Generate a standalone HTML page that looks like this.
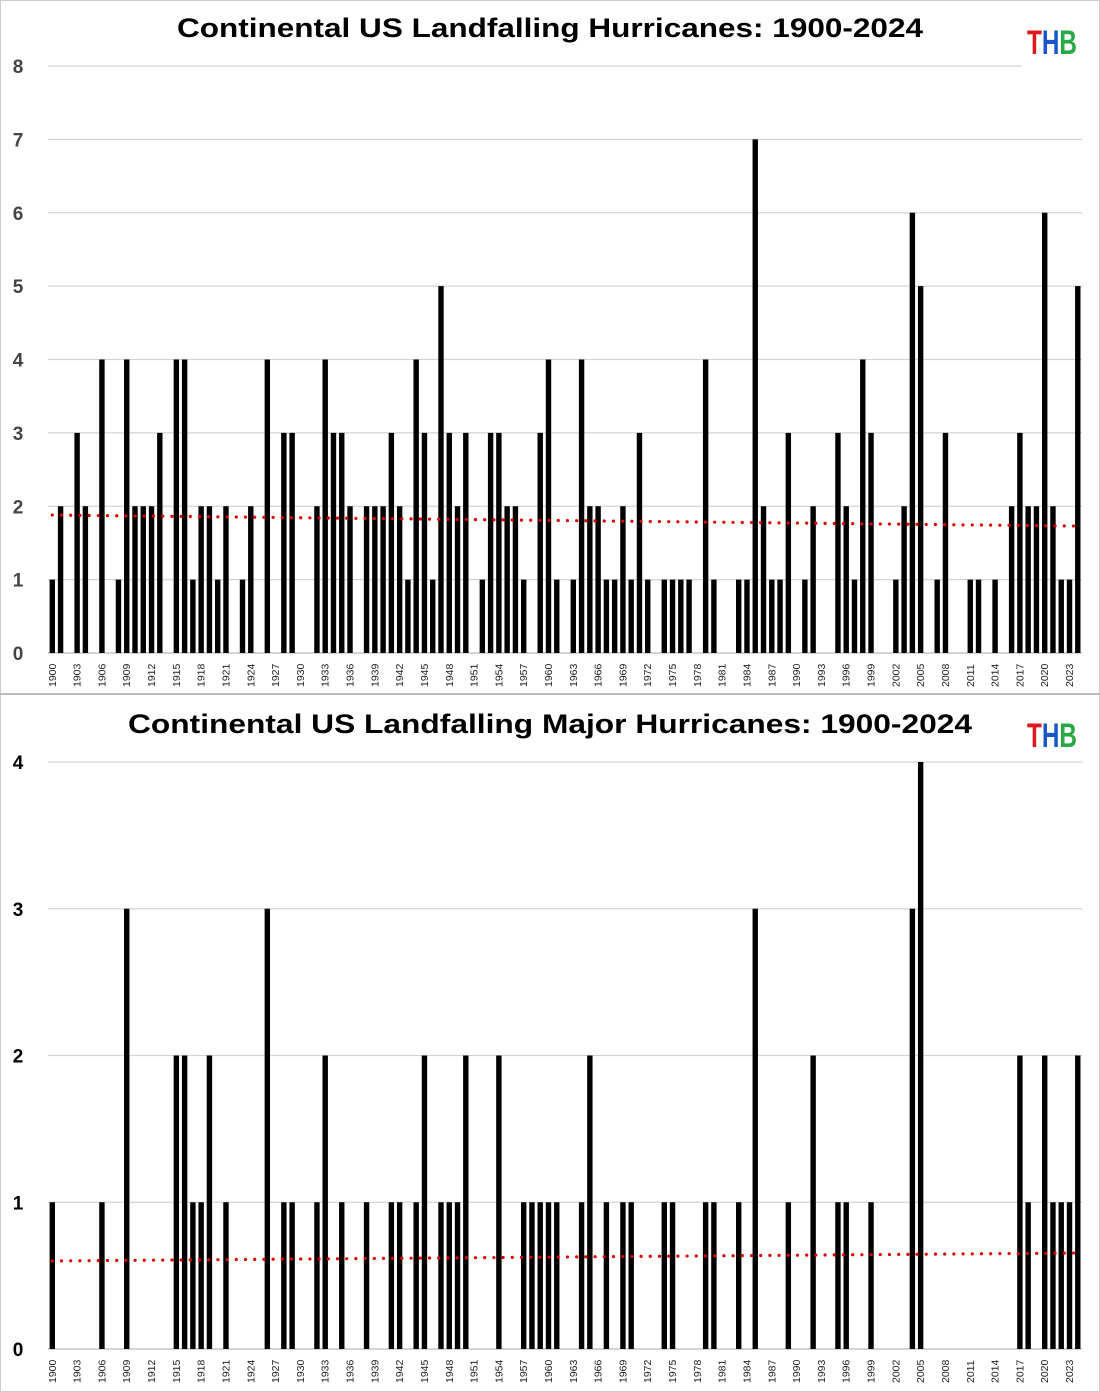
<!DOCTYPE html>
<html><head><meta charset="utf-8">
<style>
html,body{margin:0;padding:0;background:#fff;}
svg{display:block;font-family:"Liberation Sans",sans-serif;}
</style></head>
<body>
<svg id="chart" width="1100" height="1392" viewBox="0 0 1100 1392" xmlns="http://www.w3.org/2000/svg">
<rect x="0" y="0" width="1100" height="1392" fill="#fff"/>
<rect x="0.5" y="0.5" width="1099" height="1391" fill="none" stroke="#ccc"/>
<line x1="0" y1="694" x2="1100" y2="694" stroke="#bbb" stroke-width="2"/>
<text x="177" y="37" textLength="746" lengthAdjust="spacingAndGlyphs" font-size="27" font-weight="bold" fill="#000">Continental US Landfalling Hurricanes: 1900-2024</text>
<text x="128" y="733" textLength="844" lengthAdjust="spacingAndGlyphs" font-size="27" font-weight="bold" fill="#000">Continental US Landfalling Major Hurricanes: 1900-2024</text>
<g font-size="34" font-weight="bold"><text x="1027" y="54" textLength="50" lengthAdjust="spacingAndGlyphs"><tspan fill="#e0181e">T</tspan><tspan fill="#1a56c8">H</tspan><tspan fill="#2aa845">B</tspan></text></g>
<g font-size="34" font-weight="bold"><text x="1027" y="747" textLength="50" lengthAdjust="spacingAndGlyphs"><tspan fill="#e0181e">T</tspan><tspan fill="#1a56c8">H</tspan><tspan fill="#2aa845">B</tspan></text></g>
<g id="top"></g>
<g id="bottom"></g>
</svg>
<script>
const firstYear = 1900;
const allHurricanes = [1,2,0,3,2,0,4,0,1,4,2,2,2,3,0,4,4,1,2,2,1,2,0,1,2,0,4,0,3,3,0,0,2,4,3,3,2,0,2,2,2,3,2,1,4,3,1,5,3,2,3,0,1,3,3,2,2,1,0,3,4,1,0,1,4,2,2,1,1,2,1,3,1,0,1,1,1,1,0,4,1,0,0,1,1,7,2,1,1,3,0,1,2,0,0,3,2,1,4,3,0,0,1,2,6,5,0,1,3,0,0,1,1,0,1,0,2,3,2,2,6,2,1,1,5];
const majorHurricanes = [1,0,0,0,0,0,1,0,0,3,0,0,0,0,0,2,2,1,1,2,0,1,0,0,0,0,3,0,1,1,0,0,1,2,0,1,0,0,1,0,0,1,1,0,1,2,0,1,1,1,2,0,0,0,2,0,0,1,1,1,1,1,0,0,1,2,0,1,0,1,1,0,0,0,1,1,0,0,0,1,1,0,0,1,0,3,0,0,0,1,0,0,2,0,0,1,1,0,0,1,0,0,0,0,3,4,0,0,0,0,0,0,0,0,0,0,0,2,1,0,2,1,1,1,2];
const topTicks = [0,1,2,3,4,5,6,7,8];
const bottomTicks = [0,1,2,3,4];
const topTrend = [1.88, 1.73];
const bottomTrend = [0.60, 0.654];
const NS = "http://www.w3.org/2000/svg";
function mk(tag, attrs, parent){const e=document.createElementNS(NS,tag);for(const k in attrs)e.setAttribute(k,attrs[k]);parent.appendChild(e);return e;}
const x0 = 52.3, step = 8.27;
function xPos(i){return x0 + i*step;}
function draw(gid, data, ticks, trend, y0, yTop, maxV, labelColor, name, gridRight){
  const g = document.getElementById(gid);
  const yS = v => y0 - (y0-yTop)*v/maxV;
  ticks.forEach(t=>{
    const l = mk('line',{x1:48,x2:(t===maxV?gridRight:1082),y1:yS(t),y2:yS(t),stroke:(t===0?'#bbb':'#d4d4d4'),'stroke-width':1.3},g);
    
    
    const tx = mk('text',{x:18,y:yS(t)+7,'text-anchor':'middle','font-size':19,'font-weight':'bold',fill:labelColor},g);
    tx.textContent = t;
    
    
  });
  data.forEach((v,i)=>{
    if(v>0){
      const r = mk('rect',{x:xPos(i)-2.7,y:yS(v),width:5.4,height:y0-yS(v),fill:'#000'},g);
      
      
    }
    if(i%3===0){
      const yr = firstYear+i;
      const tx = mk('text',{transform:`translate(${xPos(i)+3.5},${y0+34}) rotate(-90)`,'font-size':10.5,fill:'#222'},g);
      tx.textContent = yr;
      
      
    }
  });
  const n = data.length-1;
  const tl = mk('line',{x1:xPos(0),x2:xPos(n),y1:yS(trend[0]),y2:yS(trend[1]),stroke:'#e00000','stroke-width':3.2,'stroke-linecap':'round','stroke-dasharray':'0 9.2'},g);
  
  
}
draw('top', allHurricanes, topTicks, topTrend, 653, 66, 8, '#444', 'top-chart', 1022);
draw('bottom', majorHurricanes, bottomTicks, bottomTrend, 1349, 762, 4, '#000', 'bottom-chart', 1082);
</script>
</body></html>
